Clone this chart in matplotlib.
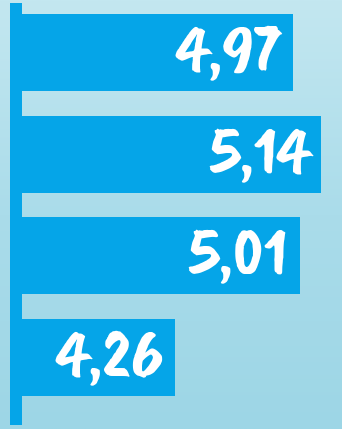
import numpy as np
import matplotlib
matplotlib.use("Agg")
import matplotlib.pyplot as plt
from matplotlib.colors import LinearSegmentedColormap

# valori delle barre (dall'alto verso il basso)
valori = [4.97, 5.14, 5.01, 4.26]
etichette = ["4,97", "5,14", "5,01", "4,26"]

colore_barra = "#05a5e8"

fig = plt.figure(figsize=(3.42, 4.29), dpi=100)

# sfondo azzurro sfumato
ax_bg = fig.add_axes([0, 0, 1, 1], zorder=0)
sfumatura = LinearSegmentedColormap.from_list("sfondo", ["#c3e7f0", "#aadcea", "#9dd6e6"])
ax_bg.imshow(np.linspace(0, 1, 256).reshape(-1, 1), aspect="auto", cmap=sfumatura,
             extent=[0, 1, 0, 1])
ax_bg.axis("off")

W, H = 342, 429
ax = fig.add_axes([22 / W, 4 / H, 320 / W, 422 / H], zorder=1)
ax.patch.set_alpha(0)

pos = np.arange(len(valori))
ax.barh(pos, valori, height=0.757, color=colore_barra, left=0)
ax.set_xlim(3.3375, 5.265)
ax.set_ylim(3.664, -0.487)

for p, v, t in zip(pos, valori, etichette):
    ax.annotate(t, xy=(v, p), xytext=(-11, -4), textcoords="offset pixels",
                ha="right", va="center", color="white", fontsize=50,
                family=["Caveat Brush", "DejaVu Sans"])

# asse verticale spesso a sinistra
for lato in ["top", "right", "bottom"]:
    ax.spines[lato].set_visible(False)
ax.spines["left"].set_color(colore_barra)
ax.spines["left"].set_linewidth(12 * 72 / 100)
ax.spines["left"].set_position(("outward", 6 * 72 / 100))
ax.spines["left"].set_capstyle("butt")
ax.set_xticks([])
ax.set_yticks([])

fig.savefig("out.png", dpi=100)
